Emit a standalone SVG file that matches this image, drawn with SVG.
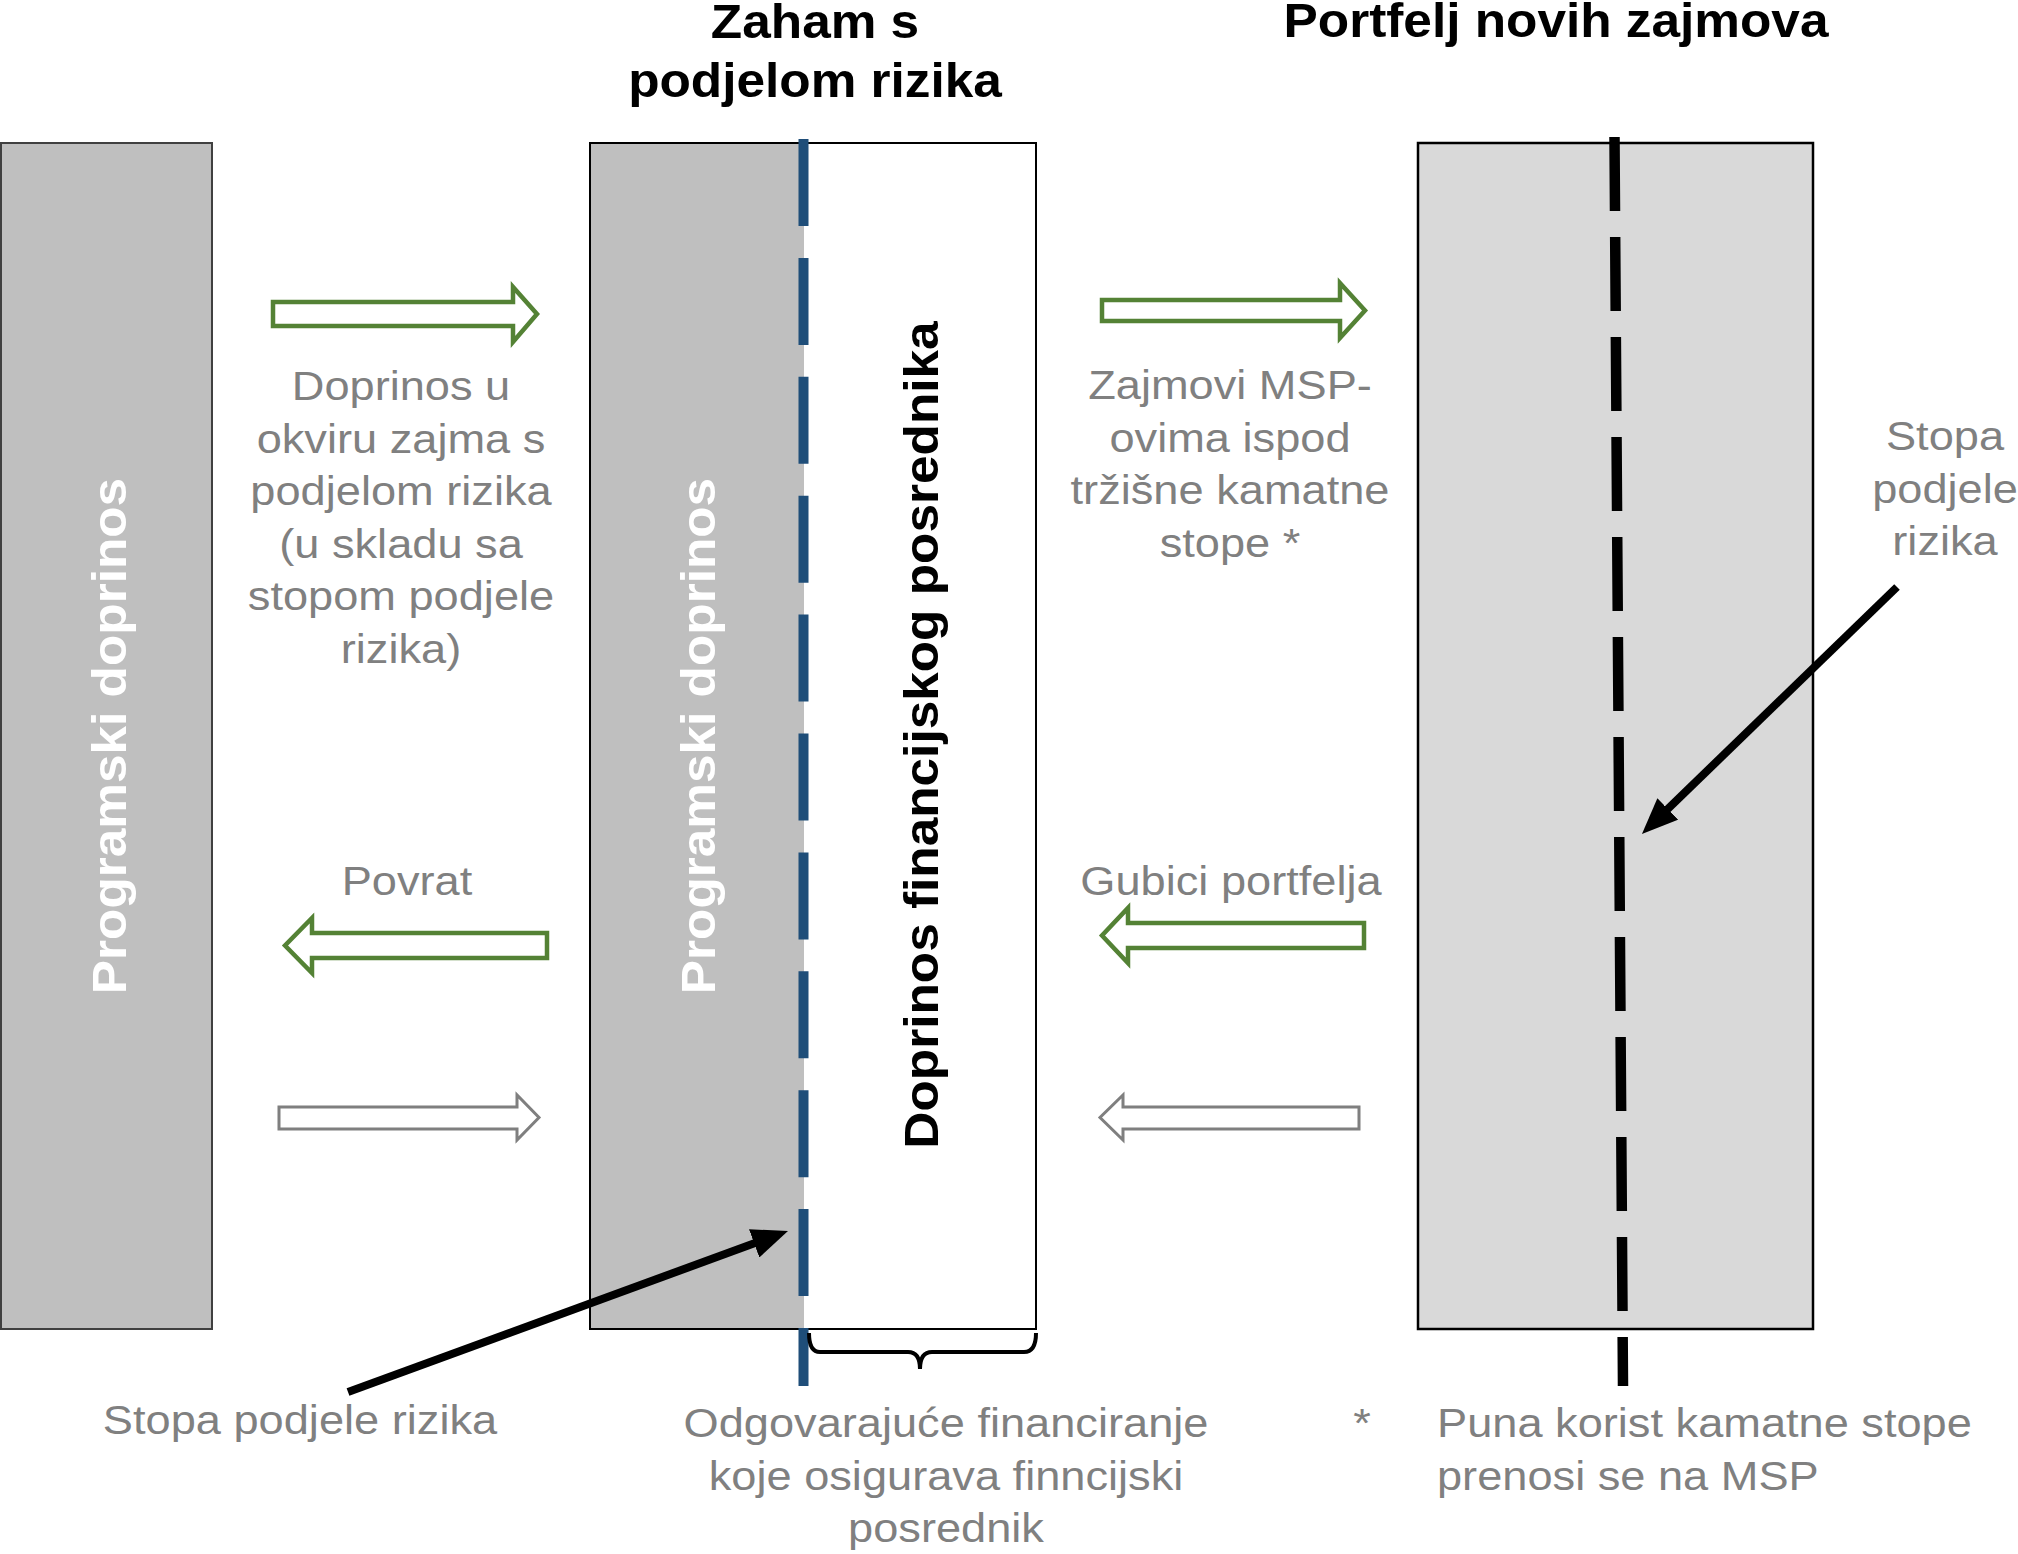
<svg xmlns="http://www.w3.org/2000/svg" width="2018" height="1554" viewBox="0 0 2018 1554">
<style>
.gt{font-family:"Liberation Sans",Arial,sans-serif;font-size:40px;fill:#808080;}
.tt{font-family:"Liberation Sans",Arial,sans-serif;font-size:48px;font-weight:bold;fill:#000;}
.vt{font-family:"Liberation Sans",Arial,sans-serif;font-size:48px;font-weight:bold;}
.ga{fill:#fff;stroke:#548235;stroke-width:4.5;stroke-linejoin:miter;}
.wa{fill:#fff;stroke:#7F7F7F;stroke-width:3;stroke-linejoin:miter;}
.bl{stroke:#000;stroke-width:8;fill:none;}
</style>
<defs>
<marker id="ah" markerUnits="userSpaceOnUse" viewBox="0 0 36 30" refX="6" refY="15" markerWidth="36" markerHeight="30" orient="auto">
<path d="M0,0 L36,15 L0,30 z" fill="#000"/>
</marker>
</defs>
<rect width="2018" height="1554" fill="#fff"/>

<g id="title-zaham">
<text class="tt" transform="translate(815,38) scale(1.07,1)" text-anchor="middle">Zaham s</text>
<text class="tt" transform="translate(815,97) scale(1.07,1)" text-anchor="middle">podjelom rizika</text>
</g>
<g id="title-portfelj">
<text class="tt" transform="translate(1556,37) scale(1.07,1)" text-anchor="middle">Portfelj novih zajmova</text>
</g>

<g id="node-program">
<rect x="1" y="143" width="211" height="1186" fill="#BFBFBF" stroke="#404040" stroke-width="2"/>
<text class="vt" fill="#fff" transform="translate(126,736) rotate(-90) scale(1.07,1)" text-anchor="middle">Programski doprinos</text>
</g>

<g id="node-zaham">
<rect x="590" y="143" width="446" height="1186" fill="#fff" stroke="#000" stroke-width="2"/>
<rect x="591" y="144" width="213" height="1184" fill="#BFBFBF"/>
<text class="vt" fill="#fff" transform="translate(715,736) rotate(-90) scale(1.07,1)" text-anchor="middle">Programski doprinos</text>
<text class="vt" fill="#000" transform="translate(938,735) rotate(-90) scale(1.07,1)" text-anchor="middle">Doprinos financijskog posrednika</text>
<line x1="803.5" y1="139" x2="803.5" y2="1386" stroke="#1F4E79" stroke-width="10" stroke-dasharray="87 31.9"/>
<path d="M809,1333 Q809,1352 820,1352 L908,1352 Q920,1352 920,1369 Q920,1352 932,1352 L1024,1352 Q1036,1352 1036,1333" fill="none" stroke="#000" stroke-width="4"/>
</g>

<g id="node-portfelj">
<rect x="1418" y="143" width="395" height="1186" fill="#D9D9D9" stroke="#000" stroke-width="2.5"/>
<line x1="1614.5" y1="137" x2="1623" y2="1386" stroke="#000" stroke-width="10.5" stroke-dasharray="74 26"/>
</g>

<g id="connectors">
<path class="ga" d="M273,302 L513,302 L513,287 L537,314 L513,342 L513,326 L273,326 Z"/>
<path class="ga" d="M1102,300 L1340,300 L1340,283 L1365,310.5 L1340,338 L1340,321 L1102,321 Z"/>
<path class="ga" d="M547,933 L312,933 L312,918 L285,945.5 L312,973 L312,958 L547,958 Z"/>
<path class="ga" d="M1364,923 L1128,923 L1128,908 L1102,935.5 L1128,963 L1128,948 L1364,948 Z"/>
<path class="wa" d="M279,1107 L517,1107 L517,1095 L539,1117.5 L517,1140 L517,1129 L279,1129 Z"/>
<path class="wa" d="M1359,1107 L1123,1107 L1123,1095 L1100,1117.5 L1123,1140 L1123,1129 L1359,1129 Z"/>
<line class="bl" x1="348" y1="1392" x2="759.8" y2="1241.3" marker-end="url(#ah)"/>
<line class="bl" x1="1897" y1="587" x2="1663.5" y2="813.1" marker-end="url(#ah)"/>
</g>

<g id="label-doprinos">
<text class="gt" transform="translate(401,400) scale(1.13,1)" text-anchor="middle">Doprinos u</text>
<text class="gt" transform="translate(401,452.5) scale(1.13,1)" text-anchor="middle">okviru zajma s</text>
<text class="gt" transform="translate(401,505) scale(1.13,1)" text-anchor="middle">podjelom rizika</text>
<text class="gt" transform="translate(401,557.5) scale(1.13,1)" text-anchor="middle">(u skladu sa</text>
<text class="gt" transform="translate(401,610) scale(1.13,1)" text-anchor="middle">stopom podjele</text>
<text class="gt" transform="translate(401,662.5) scale(1.13,1)" text-anchor="middle">rizika)</text>
</g>
<g id="label-zajmovi">
<text class="gt" transform="translate(1230,399) scale(1.13,1)" text-anchor="middle">Zajmovi MSP-</text>
<text class="gt" transform="translate(1230,451.5) scale(1.13,1)" text-anchor="middle">ovima ispod</text>
<text class="gt" transform="translate(1230,504) scale(1.13,1)" text-anchor="middle">tržišne kamatne</text>
<text class="gt" transform="translate(1230,556.5) scale(1.13,1)" text-anchor="middle">stope *</text>
</g>
<g id="label-stopa-right">
<text class="gt" transform="translate(1945,450) scale(1.13,1)" text-anchor="middle">Stopa</text>
<text class="gt" transform="translate(1945,502.5) scale(1.13,1)" text-anchor="middle">podjele</text>
<text class="gt" transform="translate(1945,555) scale(1.13,1)" text-anchor="middle">rizika</text>
</g>
<g id="label-povrat">
<text class="gt" transform="translate(407,895) scale(1.13,1)" text-anchor="middle">Povrat</text>
</g>
<g id="label-gubici">
<text class="gt" transform="translate(1231,895) scale(1.13,1)" text-anchor="middle">Gubici portfelja</text>
</g>
<g id="label-stopa-left">
<text class="gt" transform="translate(300,1434) scale(1.13,1)" text-anchor="middle">Stopa podjele rizika</text>
</g>
<g id="label-odgovarajuce">
<text class="gt" transform="translate(946,1437) scale(1.13,1)" text-anchor="middle">Odgovarajuće financiranje</text>
<text class="gt" transform="translate(946,1490) scale(1.13,1)" text-anchor="middle">koje osigurava finncijski</text>
<text class="gt" transform="translate(946,1542) scale(1.13,1)" text-anchor="middle">posrednik</text>
</g>
<g id="label-note">
<text class="gt" transform="translate(1362,1437) scale(1.13,1)" text-anchor="middle">*</text>
<text class="gt" transform="translate(1437,1437) scale(1.13,1)">Puna korist kamatne stope</text>
<text class="gt" transform="translate(1437,1490) scale(1.13,1)">prenosi se na MSP</text>
</g>
</svg>
